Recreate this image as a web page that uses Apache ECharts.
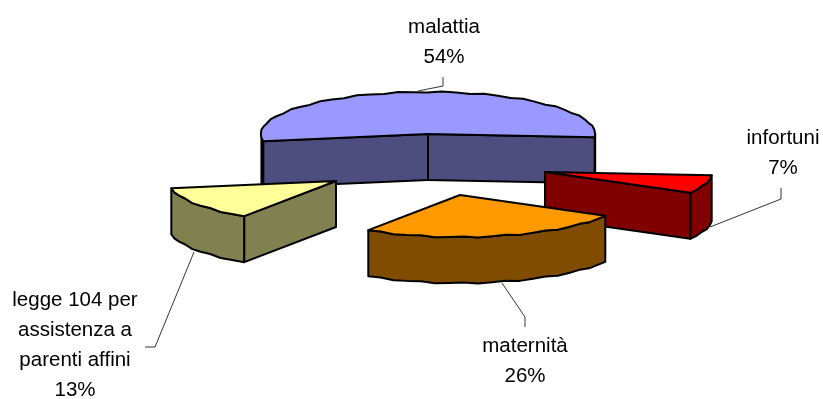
<!DOCTYPE html>
<html><head><meta charset="utf-8">
<style>html,body{margin:0;padding:0;background:#fff}#c{width:823px;height:399px}</style>
<script src="https://cdn.jsdelivr.net/npm/echarts@6/dist/echarts.min.js"></script>
</head><body><div id="c"></div>
<script>
const categories = ['malattia','infortuni','maternità','legge 104 per\nassistenza a\nparenti affini'];
const percents = [54,7,26,13];
const topColors = ['#9999FF','#FF0000','#FF9900','#FFFF99'];
const sideColors = ['#4D4D80','#800000','#804D00','#808050'];
const apexes = [[428,134],[545,172],[460,195],[336,181]];
const labelPos = [[444,42],[783,153],[525,361],[75,345]];
const leaders = [
  [[418,91],[443,86],[443,77]],
  [[710,227],[781,199],[781,188]],
  [[502,283],[525,317],[525,327]],
  [[194,252],[155,347],[145,347]]
];
const RX=167, RY=42, SKEW=8, TILT=2, DEPTH=46, START=-97.2;
const total = percents.reduce((a,b)=>a+b,0);
function pt(ax,ay,deg){
  const t=deg*Math.PI/180, X=Math.sin(t), Y=Math.cos(t);
  return [ax+RX*X-SKEW*Y, ay-RY*Y-TILT*X];
}
function wob(p,i){ return [p[0], p[1]+((i%3)-1)*0.6]; }
function down(p){return [p[0],p[1]+DEPTH];}
const stroke={stroke:'#000',lineWidth:2,lineJoin:'round'};
const chart=echarts.init(document.getElementById('c'),null,{renderer:'canvas'});
const angles=[];let acc=START;
percents.forEach(v=>{angles.push([acc,acc+v/total*360]);acc+=v/total*360;});
chart.setOption({
  animation:false,
  series:[{
    type:'custom',coordinateSystem:'none',
    data:percents.map((v,i)=>[i,v]),
    renderItem(params,api){
      const i=api.value(0);
      const [a0,a1]=angles[i];
      const A=apexes[i];
      const rad=d=>d*Math.PI/180;
      const arc=[],angs=[];
      const n=Math.max(4,Math.round((a1-a0)/5));
      for(let k=0;k<=n;k++){
        const d=a0+(a1-a0)*k/n;
        const p=pt(A[0],A[1],d);
        arc.push(k===0||k===n?p:wob(p,k));
        angs.push(d);
      }
      const poly=(points,fill)=>({type:'polygon',shape:{points},style:Object.assign({fill},stroke)});
      const children=[];
      let seg=[];
      const flush=()=>{ if(seg.length>1) children.push(poly(seg.concat(seg.map(down).reverse()),sideColors[i])); seg=[]; };
      arc.forEach((p,k)=>{ if(Math.cos(rad(angs[k]))<0.02) seg.push(p); else flush(); });
      flush();
      const P0=arc[0],P1=arc[n];
      if(Math.sin(rad(a0))<0) children.push(poly([A,P0,down(P0),down(A)],sideColors[i]));
      if(Math.sin(rad(a1))>0) children.push(poly([A,P1,down(P1),down(A)],sideColors[i]));
      children.push(poly([A].concat(arc),topColors[i]));
      return {type:'group',children};
    }
  },{
    type:'custom',coordinateSystem:'none',silent:true,
    data:percents.map((v,i)=>[i,v]),
    renderItem(params,api){
      const i=api.value(0);
      return {type:'group',children:[
        {type:'polyline',shape:{points:leaders[i]},style:{fill:'none',stroke:'#333',lineWidth:1}},
        {type:'text',x:labelPos[i][0],y:labelPos[i][1],style:{
          text:categories[i]+'\n'+api.value(1)+'%',
          align:'center',verticalAlign:'middle',fill:'#000',
          font:'20.5px "Liberation Sans", Arial, sans-serif',lineHeight:30}}
      ]};
    }
  }]
});
</script></body></html>
